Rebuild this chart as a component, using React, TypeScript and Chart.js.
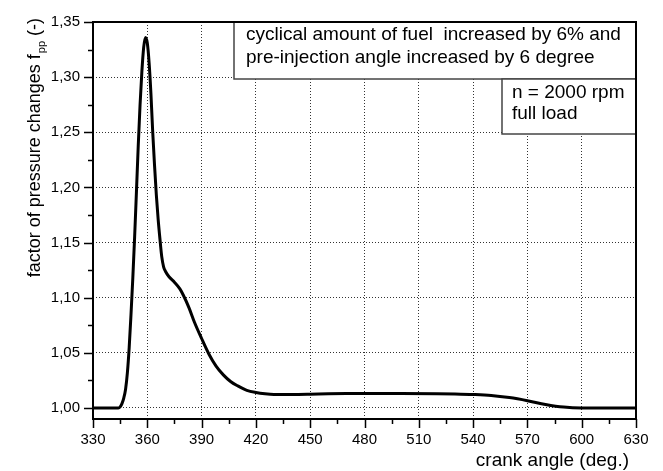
import React, { useEffect, useRef } from "react";
import { Chart, registerables } from "chart.js";

Chart.register(...registerables);

// ---- data ----
const crankAngle = [
  330, 340, 344, 345, 346, 347, 348, 349, 350, 351, 352, 353, 354, 355, 356,
  357, 358, 359, 360, 361, 362, 363, 364, 365, 366, 367, 368, 369, 370, 372,
  375, 378, 380, 383, 386, 390, 394, 398, 402, 406, 410, 415, 420, 425, 430,
  440, 450, 460, 470, 480, 500, 520, 530, 540, 550, 560, 570, 580, 590, 600,
  615, 630,
];
const pressureFactor = [
  1.0, 1.0, 1.0, 1.001, 1.004, 1.009, 1.017, 1.032, 1.055, 1.085, 1.118,
  1.155, 1.196, 1.238, 1.275, 1.305, 1.327, 1.336, 1.331, 1.313, 1.285, 1.25,
  1.22, 1.193, 1.171, 1.153, 1.137, 1.128, 1.124, 1.119, 1.114, 1.108, 1.102,
  1.091, 1.078, 1.063, 1.049, 1.038, 1.03, 1.024, 1.02, 1.016, 1.014, 1.0128,
  1.0122, 1.0122, 1.0125, 1.013, 1.0132, 1.0132, 1.0132, 1.013, 1.0127,
  1.0122, 1.0113, 1.0094, 1.0066, 1.0032, 1.0008, 1.0, 1.0, 1.0,
];

const xTicks = [330, 360, 390, 420, 450, 480, 510, 540, 570, 600, 630];
const xMinorTicks = [345, 375, 405, 435, 465, 495, 525, 555, 585, 615];
const yTicks = [1.0, 1.05, 1.1, 1.15, 1.2, 1.25, 1.3, 1.35];
const yMinorTicks = [1.025, 1.075, 1.125, 1.175, 1.225, 1.275, 1.325];

const xTitle = "crank angle (deg.)";
const yTitleMain = "factor of pressure changes f";
const yTitleSub = "pp";
const yTitleTail = " (-)";
const noteLines1 = [
  "cyclical amount of fuel  increased by 6% and",
  "pre-injection angle increased by 6 degree",
];
const noteLines2 = ["n = 2000 rpm", "full load"];

const FONT = '"Liberation Sans", Arial, sans-serif';

const decorPlugin = {
  id: "decor",
  afterDatasetsDraw(chart: any) {
    const ctx = chart.ctx;
    const { left, right, top, bottom } = chart.chartArea;
    ctx.save();
    // note box 1
    const b1 = { x: 234, y: top, w: right - 234, h: 57 };
    ctx.fillStyle = "#fff";
    ctx.fillRect(b1.x, b1.y, b1.w, b1.h);
    ctx.strokeStyle = "#444";
    ctx.lineWidth = 1.5;
    ctx.strokeRect(b1.x, b1.y, b1.w, b1.h);
    ctx.fillStyle = "#000";
    ctx.font = "19px " + FONT;
    ctx.textBaseline = "alphabetic";
    ctx.textAlign = "left";
    ctx.fillText(noteLines1[0], 246, 40);
    ctx.fillText(noteLines1[1], 246, 63);
    // note box 2
    const b2 = { x: 502, y: top + 57, w: right - 502, h: 55 };
    ctx.fillStyle = "#fff";
    ctx.fillRect(b2.x, b2.y, b2.w, b2.h);
    ctx.strokeRect(b2.x, b2.y, b2.w, b2.h);
    ctx.fillStyle = "#000";
    ctx.fillText(noteLines2[0], 512, 98);
    ctx.fillText(noteLines2[1], 512, 119);
    ctx.restore();
  },
  afterDraw(chart: any) {
    const ctx = chart.ctx;
    const { left, right, top, bottom } = chart.chartArea;
    const xs = chart.scales.x;
    const ys = chart.scales.y;
    ctx.save();
    ctx.strokeStyle = "#000";
    ctx.lineWidth = 1.5;
    ctx.beginPath();
    xTicks.forEach((v) => {
      const px = Math.round(xs.getPixelForValue(v)) + 0.5;
      ctx.moveTo(px, bottom);
      ctx.lineTo(px, bottom + 9);
    });
    xMinorTicks.forEach((v) => {
      const px = Math.round(xs.getPixelForValue(v)) + 0.5;
      ctx.moveTo(px, bottom);
      ctx.lineTo(px, bottom + 5);
    });
    yTicks.forEach((v) => {
      const py = Math.round(ys.getPixelForValue(v)) + 0.5;
      ctx.moveTo(left - 9, py);
      ctx.lineTo(left, py);
    });
    yMinorTicks.forEach((v) => {
      const py = Math.round(ys.getPixelForValue(v)) + 0.5;
      ctx.moveTo(left - 5, py);
      ctx.lineTo(left, py);
    });
    ctx.stroke();
    // frame
    ctx.lineWidth = 2;
    ctx.strokeRect(left, top, right - left, bottom - top);

    // x title
    ctx.fillStyle = "#000";
    ctx.font = "19px " + FONT;
    ctx.textAlign = "right";
    ctx.textBaseline = "alphabetic";
    ctx.fillText(xTitle, 629, 466);

    // y title with subscript
    const mainFont = "18px " + FONT;
    const subFont = "11px " + FONT;
    ctx.font = mainFont;
    const w1 = ctx.measureText(yTitleMain).width;
    const w3 = ctx.measureText(yTitleTail).width;
    ctx.font = subFont;
    const w2 = ctx.measureText(yTitleSub).width;
    const total = w1 + 1 + w2 + w3;
    const endY = 18;
    const baseX = 40;
    ctx.translate(baseX, endY + total);
    ctx.rotate(-Math.PI / 2);
    ctx.textAlign = "left";
    ctx.font = mainFont;
    ctx.fillText(yTitleMain, 0, 0);
    ctx.font = subFont;
    ctx.fillText(yTitleSub, w1 + 1, 5);
    ctx.font = mainFont;
    ctx.fillText(yTitleTail, w1 + 1 + w2, 0);
    ctx.restore();
  },
};

export default function App() {
  const canvasRef = useRef<HTMLCanvasElement | null>(null);

  useEffect(() => {
    if (!canvasRef.current) return;
    const points = crankAngle.map((x, i) => ({ x, y: pressureFactor[i] }));
    const chart = new Chart(canvasRef.current, {
      type: "line",
      data: {
        datasets: [
          {
            data: points,
            borderColor: "#000",
            borderWidth: 3,
            pointRadius: 0,
            fill: false,
            cubicInterpolationMode: "monotone",
          },
        ],
      },
      options: {
        animation: false,
        responsive: false,
        devicePixelRatio: 1,
        layout: { padding: { top: 16, right: 27, left: 0, bottom: 0 } },
        plugins: {
          legend: { display: false },
          tooltip: { enabled: false },
        },
        scales: {
          x: {
            type: "linear",
            min: 330,
            max: 630,
            afterBuildTicks: (scale: any) => {
              scale.ticks = xTicks.map((v) => ({ value: v }));
            },
            afterFit: (scale: any) => {
              scale.height = 52;
            },
            ticks: {
              color: "#000",
              font: { family: FONT, size: 15 },
              padding: 12,
              maxRotation: 0,
              autoSkip: false,
            },
            grid: {
              color: "#333",
              lineWidth: 1,
              drawTicks: false,
            },
            border: { display: false, dash: [1, 2] },
          },
          y: {
            type: "linear",
            min: 0.99,
            max: 1.35,
            afterBuildTicks: (scale: any) => {
              scale.ticks = yTicks.map((v) => ({ value: v }));
            },
            afterFit: (scale: any) => {
              scale.width = 93;
            },
            ticks: {
              color: "#000",
              font: { family: FONT, size: 15 },
              padding: 13,
              autoSkip: false,
              callback: (v: any) => Number(v).toFixed(2).replace(".", ","),
            },
            grid: {
              color: "#333",
              lineWidth: 1,
              drawTicks: false,
            },
            border: { display: false, dash: [1, 2] },
          },
        },
      },
      plugins: [decorPlugin],
    });
    return () => chart.destroy();
  }, []);

  return (
    <div style={{ position: "absolute", left: 0, top: 0, width: 663, height: 471, background: "#fff" }}>
      <canvas ref={canvasRef} width={663} height={471} />
    </div>
  );
}
